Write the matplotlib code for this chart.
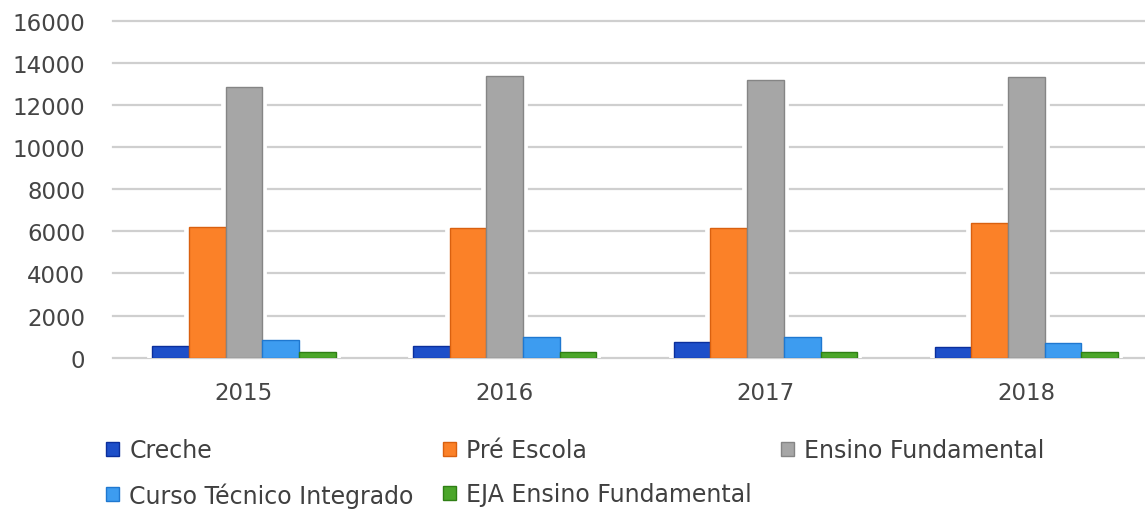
import matplotlib
matplotlib.use("Agg")
import matplotlib.pyplot as plt
import numpy as np

years = ["2015", "2016", "2017", "2018"]
series_names = ["Creche", "Pré Escola", "Ensino Fundamental",
                "Curso Técnico Integrado", "EJA Ensino Fundamental"]
creche = [570, 570, 760, 494]
pre_escola = [6190, 6140, 6140, 6395]
ensino_fund = [12840, 13390, 13185, 13310]
curso_tec = [855, 965, 965, 684]
eja_fund = [250, 250, 280, 250]

colors = ["#1d4fc9", "#fb8128", "#a6a6a6", "#3d9cf0", "#4ba62a"]
edges = ["#0b2f9c", "#d9600f", "#858585", "#1f78d0", "#2f7f15"]

plt.rcParams["font.family"] = ["DejaVu Sans"]
fig = plt.figure(figsize=(11.45, 5.10), dpi=100)
ax = fig.add_axes([113 / 1145, 1 - 358.7 / 510, (1145 - 113) / 1145, (358.7 - 21.7) / 510])

x = np.arange(len(years))
w = 0.1407
data = [creche, pre_escola, ensino_fund, curso_tec, eja_fund]
handles = []
for k, vals in enumerate(data):
    pos = x + (k - 2) * w
    # white halo that interrupts gridlines around the bars
    ax.bar(pos, vals, width=w, color="white", edgecolor="white", linewidth=7, zorder=2)
for k, vals in enumerate(data):
    pos = x + (k - 2) * w
    b = ax.bar(pos, vals, width=w, color=colors[k], edgecolor=edges[k], linewidth=1,
               zorder=3, label=series_names[k])
    handles.append(b)

ax.set_xlim(-0.502, 3.455)
ax.set_ylim(0, 16000)
ax.set_yticks(np.arange(0, 16001, 2000))
ax.set_xticks(x)
ax.set_xticklabels(years)
ax.yaxis.grid(True, color="#cfcfcf", linewidth=1.6, zorder=0)
ax.set_axisbelow(True)
for gl in ax.get_ygridlines():
    gl.set_clip_on(False)
for s in ax.spines.values():
    s.set_visible(False)
ax.tick_params(axis="both", length=0, labelsize=16.5, labelcolor="#454545")
ax.tick_params(axis="y", pad=20)
ax.tick_params(axis="x", pad=17)

order = [0, 3, 1, 4, 2]
leg = fig.legend([handles[i] for i in order], [series_names[i] for i in order],
                 ncol=3, loc="upper left", bbox_to_anchor=(106 / 1145, 1 - 439 / 510),
                 frameon=False, fontsize=17, handlelength=0.55, handleheight=0.55,
                 handletextpad=0.43, columnspacing=1.24, labelspacing=0.85, borderpad=0,
                 borderaxespad=0)
for t in leg.get_texts():
    t.set_color("#404040")

fig.savefig("out.png", dpi=100, facecolor="white")
